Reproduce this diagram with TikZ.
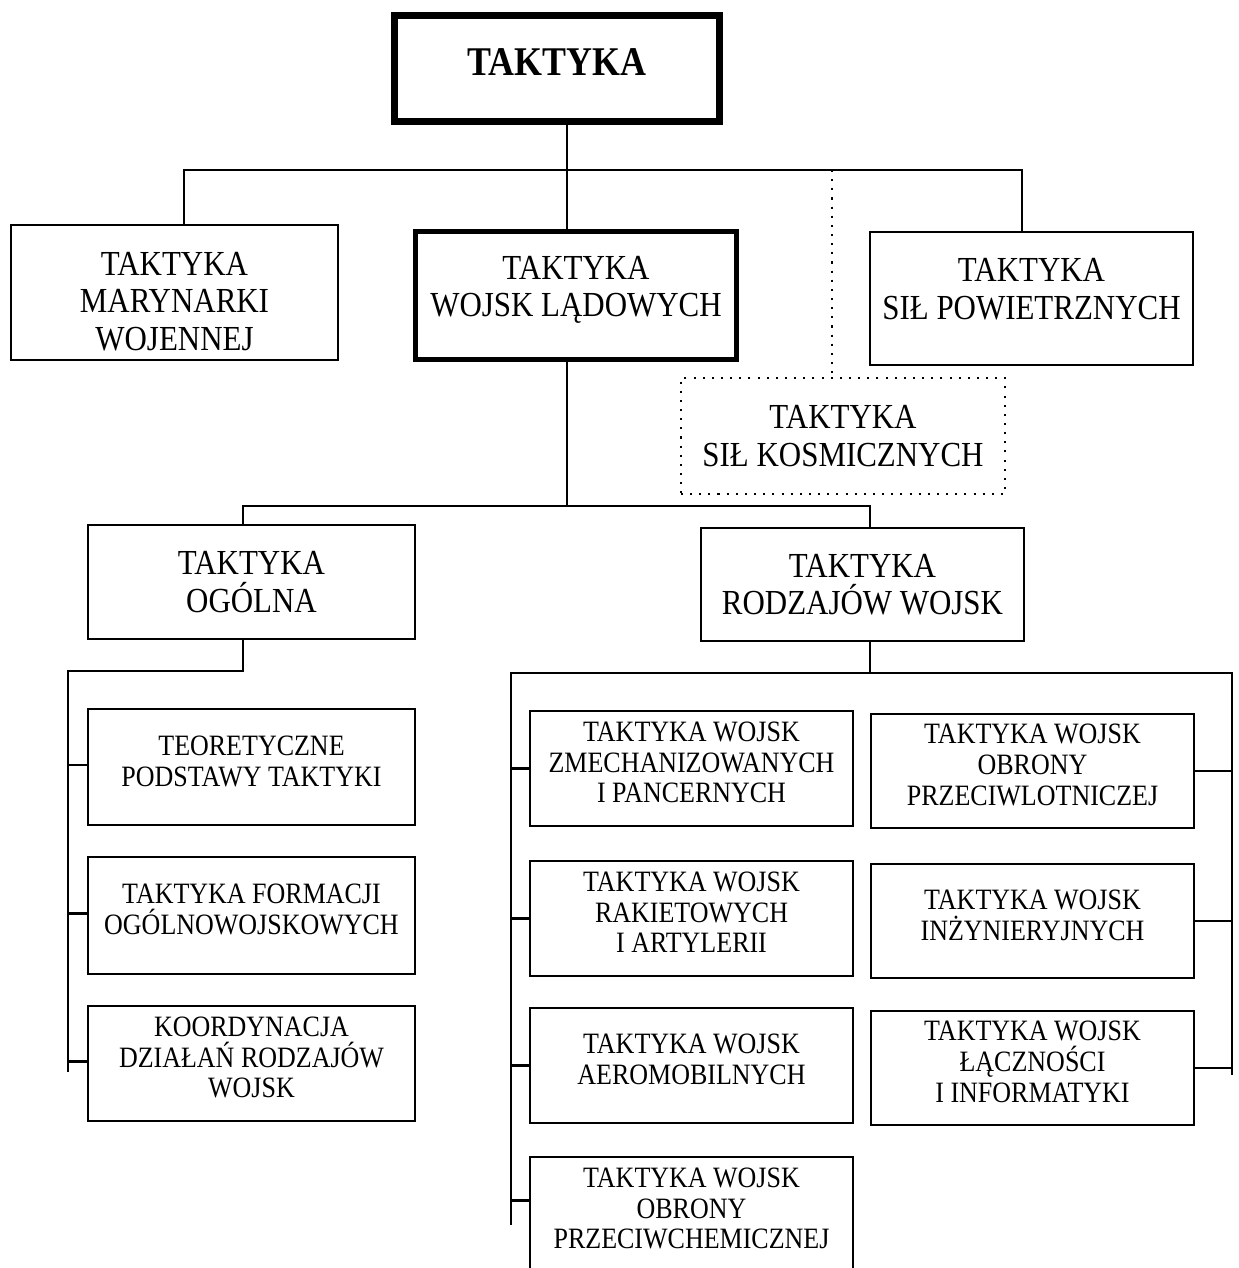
\documentclass[tikz,border=0pt]{standalone}
\usepackage{fontspec}
\setmainfont[FakeStretch=0.88]{Liberation Serif}
\usepackage{tikz}
\usetikzlibrary{calc}
\tikzstyle{link}=[line width=.6pt]
\tikzstyle{boxed}=[draw, line width=.6pt, inner sep=0pt, align=center, font=\fontsize{10}{10.6}\selectfont]
\tikzstyle{heavybox}=[boxed, line width=1.4pt]
\tikzstyle{topbox}=[boxed, line width=2pt, text depth=3.5pt, font=\fontsize{11.6}{13}\selectfont\bfseries]
\tikzstyle{dottedbox}=[boxed, dotted]
\tikzstyle{smallbox}=[boxed, text depth=3.5pt, font=\fontsize{8.4}{8.75}\selectfont, minimum width=3.23cm, minimum height=1.15cm]
\tikzstyle{leftbox}=[smallbox, minimum width=3.27cm]

\begin{document}
\begin{tikzpicture}[x=0.01cm, y=-0.01cm]
	\clip (0,0) rectangle (1238,1268);
	% first and second level
	\node[topbox, minimum width=3.25cm, minimum height=1.06cm] (top) at (557,68.5) {TAKTYKA};
	\node[boxed, text height=33pt, minimum width=3.27cm, minimum height=1.35cm] (mar) at (174.5,292.5) {TAKTYKA\\MARYNARKI\\WOJENNEJ};
	\node[heavybox, text depth=5.1pt, minimum width=3.21cm, minimum height=1.28cm] (wl) at (576,295.5) {TAKTYKA\\WOJSK LĄDOWYCH};
	\node[boxed, text depth=5.4pt, minimum width=3.23cm, minimum height=1.33cm] (pow) at (1031.5,298.5) {TAKTYKA\\SIŁ POWIETRZNYCH};
	\node[dottedbox, minimum width=3.24cm, minimum height=1.16cm] (kos) at (843,436) {TAKTYKA\\SIŁ KOSMICZNYCH};
	\coordinate (j1) at (567,170);
	\coordinate (hl) at (184,170);
	\coordinate (hr) at (1022,170);
	\coordinate (hd) at (832,170);
	\draw[link] (top.south -| j1) -- (wl.north -| j1);
	\draw[link] (mar.north -| hl) -- (hl) -- (hr) -- (pow.north -| hr);
	\draw[link, dotted] (hd) -- (kos.north -| hd);
	% third level
	\node[boxed, minimum width=3.27cm, minimum height=1.14cm] (og) at (251.5,582) {TAKTYKA\\OGÓLNA};
	\node[boxed, minimum width=3.23cm, minimum height=1.13cm] (rw) at (862.5,584.5) {TAKTYKA\\RODZAJÓW WOJSK};
	\coordinate (j2) at (567,506);
	\coordinate (gl) at (243,506);
	\coordinate (gr) at (870,506);
	\draw[link] (wl.south -| j2) -- (j2);
	\draw[link] (og.north -| gl) -- (gl) -- (gr) -- (rw.north -| gr);
	% general tactics
	\node[leftbox, minimum height=1.16cm] (teo) at (251.5,767) {TEORETYCZNE\\PODSTAWY TAKTYKI};
	\node[leftbox, minimum height=1.17cm] (form) at (251.5,915.5) {TAKTYKA FORMACJI\\OGÓLNOWOJSKOWYCH};
	\node[leftbox] (koord) at (251.5,1063.5) {KOORDYNACJA\\DZIAŁAŃ RODZAJÓW\\WOJSK};
	\coordinate (ol) at (68,671);
	\coordinate (olb) at (68,1072);
	\draw[link] (og.south -| gl) -- (gl |- ol) -- (ol) -- (olb);
	\foreach \n in {teo,form,koord}
		\draw[link] ($(\n.west)+(0,-2)$) -- ($(\n.west -| ol)+(0,-2)$);
	% branches
	\node[smallbox] (zme) at (691.5,768.5) {TAKTYKA WOJSK\\ZMECHANIZOWANYCH\\I PANCERNYCH};
	\node[smallbox] (rak) at (691.5,918.5) {TAKTYKA WOJSK\\RAKIETOWYCH\\I ARTYLERII};
	\node[smallbox] (aer) at (691.5,1065.5) {TAKTYKA WOJSK\\AEROMOBILNYCH};
	\node[smallbox] (chem) at (691.5,1214.5) {TAKTYKA WOJSK\\OBRONY\\PRZECIWCHEMICZNEJ};
	\node[smallbox, minimum height=1.14cm] (plot) at (1032.5,771) {TAKTYKA WOJSK\\OBRONY\\PRZECIWLOTNICZEJ};
	\node[smallbox, minimum height=1.14cm] (inz) at (1032.5,921) {TAKTYKA WOJSK\\INŻYNIERYJNYCH};
	\node[smallbox, minimum height=1.14cm] (lacz) at (1032.5,1068) {TAKTYKA WOJSK\\ŁĄCZNOŚCI\\I INFORMATYKI};
	\coordinate (rj) at (870,673);
	\coordinate (rl) at (511,673);
	\coordinate (rr) at (1232,673);
	\coordinate (rlb) at (511,1225);
	\coordinate (rrb) at (1232,1075);
	\draw[link] (rw.south -| rj) -- (rj);
	\draw[link] (rlb) -- (rl) -- (rr) -- (rrb);
	\foreach \n in {zme,rak,aer}
		\draw[link] (\n.west) -- (\n.west -| rl);
	\draw[link] ($(chem.west)+(0,-14)$) -- ($(chem.west -| rl)+(0,-14)$);
	\foreach \n in {plot,inz,lacz}
		\draw[link] (\n.east) -- (\n.east -| rr);
\end{tikzpicture}
\end{document}
